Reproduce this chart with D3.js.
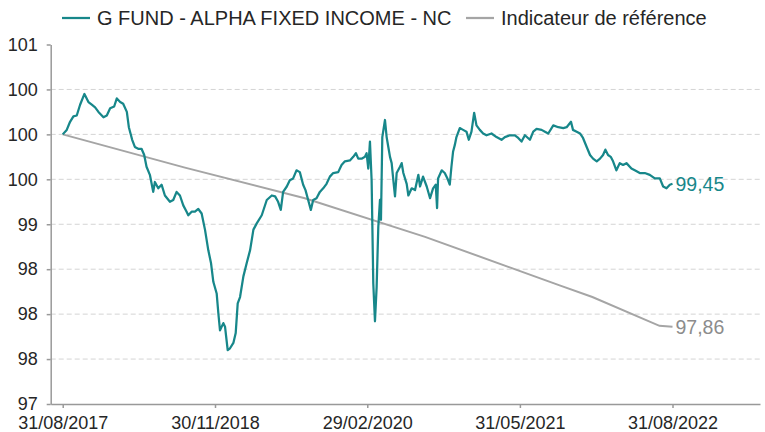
<!DOCTYPE html>
<html>
<head>
<meta charset="utf-8">
<script src="https://cdn.jsdelivr.net/npm/d3@7"></script>
<style>
	body { margin: 0; background: #fff; }
	svg { font-family: 'Liberation Sans', Arial, sans-serif; }
</style>
</head>
<body>
<div id="chart"></div>
<script>
// series names
const seriesNames = ['G FUND - ALPHA FIXED INCOME - NC', 'Indicateur de référence'];

// fund, base 100
const fundSeries = [
	['2017-08-31', 100.0], ['2017-09-12', 100.05], ['2017-09-22', 100.14], ['2017-10-02', 100.2],
	['2017-10-12', 100.21], ['2017-10-22', 100.33], ['2017-11-04', 100.45], ['2017-11-16', 100.36],
	['2017-11-26', 100.33], ['2017-12-06', 100.3], ['2017-12-16', 100.25], ['2017-12-31', 100.19],
	['2018-01-10', 100.21], ['2018-01-20', 100.29], ['2018-02-01', 100.31], ['2018-02-09', 100.4],
	['2018-02-19', 100.36], ['2018-02-28', 100.34], ['2018-03-11', 100.25], ['2018-03-17', 100.08],
	['2018-03-27', 99.94], ['2018-04-04', 99.86], ['2018-04-14', 99.84], ['2018-04-24', 99.84],
	['2018-05-02', 99.77], ['2018-05-09', 99.64], ['2018-05-19', 99.55], ['2018-05-29', 99.36],
	['2018-06-03', 99.47], ['2018-06-13', 99.4], ['2018-06-23', 99.44], ['2018-07-03', 99.32],
	['2018-07-18', 99.25], ['2018-07-28', 99.27], ['2018-08-07', 99.36], ['2018-08-17', 99.32],
	['2018-08-27', 99.21], ['2018-09-06', 99.14], ['2018-09-11', 99.1], ['2018-09-21', 99.14],
	['2018-10-01', 99.14], ['2018-10-11', 99.17], ['2018-10-21', 99.12], ['2018-10-31', 98.94],
	['2018-11-10', 98.71], ['2018-11-18', 98.57], ['2018-11-25', 98.36], ['2018-12-05', 98.23],
	['2018-12-10', 98.01], ['2018-12-15', 97.82], ['2018-12-25', 97.9], ['2018-12-30', 97.86],
	['2019-01-07', 97.6], ['2019-01-14', 97.62], ['2019-01-24', 97.68], ['2019-01-31', 97.79],
	['2019-02-06', 98.12], ['2019-02-13', 98.19], ['2019-02-23', 98.42], ['2019-03-05', 98.57],
	['2019-03-15', 98.71], ['2019-03-25', 98.94], ['2019-04-04', 99.01], ['2019-04-19', 99.1],
	['2019-05-04', 99.27], ['2019-05-19', 99.32], ['2019-05-29', 99.31], ['2019-06-07', 99.25],
	['2019-06-15', 99.16], ['2019-06-22', 99.36], ['2019-07-03', 99.42], ['2019-07-12', 99.49],
	['2019-07-22', 99.51], ['2019-08-01', 99.6], ['2019-08-11', 99.58], ['2019-08-21', 99.44],
	['2019-08-28', 99.38], ['2019-09-05', 99.27], ['2019-09-13', 99.16], ['2019-09-20', 99.27],
	['2019-09-30', 99.29], ['2019-10-10', 99.36], ['2019-10-20', 99.4], ['2019-10-30', 99.45],
	['2019-11-09', 99.53], ['2019-11-19', 99.57], ['2019-12-04', 99.58], ['2019-12-14', 99.66],
	['2019-12-24', 99.7], ['2020-01-08', 99.71], ['2020-01-18', 99.75], ['2020-01-26', 99.79],
	['2020-02-02', 99.73], ['2020-02-12', 99.73], ['2020-02-22', 99.75], ['2020-02-27', 99.79],
	['2020-03-03', 99.62], ['2020-03-08', 99.92], ['2020-03-13', 99.49], ['2020-03-18', 98.34],
	['2020-03-23', 97.92], ['2020-03-28', 98.3], ['2020-04-02', 98.97], ['2020-04-07', 99.27],
	['2020-04-10', 99.05], ['2020-04-14', 99.97], ['2020-04-22', 100.16], ['2020-04-27', 99.97],
	['2020-05-02', 99.86], ['2020-05-07', 99.75], ['2020-05-12', 99.68], ['2020-05-17', 99.49],
	['2020-05-22', 99.31], ['2020-05-27', 99.57], ['2020-06-06', 99.64], ['2020-06-11', 99.68],
	['2020-06-16', 99.57], ['2020-06-26', 99.45], ['2020-07-01', 99.32], ['2020-07-11', 99.4],
	['2020-07-21', 99.38], ['2020-07-31', 99.55], ['2020-08-05', 99.42], ['2020-08-14', 99.53],
	['2020-08-25', 99.42], ['2020-09-04', 99.29], ['2020-09-13', 99.4], ['2020-09-21', 99.44],
	['2020-09-25', 99.18], ['2020-09-28', 99.51], ['2020-10-09', 99.6], ['2020-10-18', 99.57],
	['2020-10-26', 99.51], ['2020-11-02', 99.44], ['2020-11-07', 99.64], ['2020-11-12', 99.81],
	['2020-11-17', 99.88], ['2020-11-22', 99.97], ['2020-12-02', 100.07], ['2020-12-12', 100.05],
	['2020-12-22', 100.03], ['2020-12-29', 99.94], ['2021-01-06', 100.03], ['2021-01-14', 100.24],
	['2021-01-21', 100.1], ['2021-01-31', 100.05], ['2021-02-10', 100.01], ['2021-02-20', 99.99],
	['2021-03-07', 100.01], ['2021-03-22', 99.97], ['2021-04-06', 99.94], ['2021-04-16', 99.97],
	['2021-05-01', 99.99], ['2021-05-16', 99.99], ['2021-05-26', 99.96], ['2021-06-05', 99.92],
	['2021-06-15', 99.99], ['2021-06-30', 99.94], ['2021-07-10', 100.03], ['2021-07-20', 100.06],
	['2021-08-04', 100.05], ['2021-08-14', 100.03], ['2021-08-24', 100.01], ['2021-09-08', 100.1],
	['2021-09-23', 100.08], ['2021-10-08', 100.07], ['2021-10-18', 100.08], ['2021-10-31', 100.14],
	['2021-11-06', 100.05], ['2021-11-17', 100.03], ['2021-11-27', 100.01], ['2021-12-06', 99.96],
	['2021-12-17', 99.86], ['2021-12-27', 99.77], ['2022-01-05', 99.73], ['2022-01-16', 99.7],
	['2022-01-26', 99.73], ['2022-02-04', 99.77], ['2022-02-11', 99.83], ['2022-02-19', 99.77],
	['2022-02-27', 99.75], ['2022-03-06', 99.7], ['2022-03-16', 99.6], ['2022-03-26', 99.68],
	['2022-04-05', 99.66], ['2022-04-15', 99.68], ['2022-04-30', 99.62], ['2022-05-10', 99.6],
	['2022-05-25', 99.57], ['2022-06-09', 99.57], ['2022-06-24', 99.55], ['2022-07-09', 99.51],
	['2022-07-24', 99.51], ['2022-08-03', 99.42], ['2022-08-13', 99.4], ['2022-08-23', 99.44],
	['2022-08-31', 99.45],
];

// benchmark, base 100
const benchSeries = [
	['2017-08-31', 100.0], ['2018-09-01', 99.63], ['2019-08-26', 99.29], ['2020-08-20', 98.86],
	['2021-09-27', 98.32], ['2022-01-03', 98.19], ['2022-07-23', 97.87], ['2022-08-31', 97.86],
];

// axis ticks
const xTickDates = ['2017-08-31', '2018-11-30', '2020-02-29', '2021-05-31', '2022-08-31'];
const yTickValues = [97, 97.5, 98, 98.5, 99, 99.5, 100, 100.5, 101];
const yTickLabels = ['97', '98', '98', '98', '99', '100', '100', '100', '101'];
const xDomain = ['2017-07-26', '2023-05-20'];

const width = 765;
const height = 432;
const teal = '#17878a';
const grey = '#a5a5a5';

const parse = d3.timeParse('%Y-%m-%d');
const fund = fundSeries.map(([d, v]) => ({ date: parse(d), value: v }));
const bench = benchSeries.map(([d, v]) => ({ date: parse(d), value: v }));

const x = d3.scaleTime().domain(xDomain.map(parse)).range([50.7, 760]);
const y = d3.scaleLinear().domain([97, 101]).range([404, 44.5]);

const svg = d3.select('#chart').append('svg').attr('width', width).attr('height', height);

// dashed gridlines (not on the bottom / top)
svg.append('g')
	.selectAll('line')
	.data(yTickValues.filter((v) => v > 97 && v < 101))
	.join('line')
	.attr('x1', x.range()[0])
	.attr('x2', x.range()[1])
	.attr('y1', (d) => y(d))
	.attr('y2', (d) => y(d))
	.attr('stroke', '#d4d4d4')
	.attr('stroke-width', 1)
	.attr('stroke-dasharray', '5,3');

// x axis
const xAxis = svg.append('g')
	.attr('transform', `translate(0,${y(97)})`)
	.call(
		d3.axisBottom(x)
			.tickValues(xTickDates.map(parse))
			.tickSize(4)
			.tickSizeOuter(0)
			.tickFormat(d3.timeFormat('%d/%m/%Y'))
	);
xAxis.select('.domain').attr('stroke', '#999').attr('stroke-width', 1.5);
xAxis.selectAll('.tick line').attr('stroke', '#999').attr('stroke-width', 1.5);
xAxis.selectAll('.tick text')
	.attr('y', 12)
	.attr('font-size', 18)
	.attr('fill', '#262626')
	.attr('font-family', "'Liberation Sans', Arial, sans-serif");

// y axis
const yAxis = svg.append('g')
	.attr('transform', `translate(${x.range()[0]},0)`)
	.call(
		d3.axisLeft(y)
			.tickValues(yTickValues)
			.tickSize(4)
			.tickSizeOuter(0)
			.tickFormat((d, i) => yTickLabels[i])
	);
yAxis.select('.domain').attr('stroke', '#999').attr('stroke-width', 1.5);
yAxis.selectAll('.tick line').attr('stroke', '#999').attr('stroke-width', 1.5);
yAxis.selectAll('.tick text')
	.attr('x', -13)
	.attr('font-size', 18)
	.attr('fill', '#262626')
	.attr('font-family', "'Liberation Sans', Arial, sans-serif");

const line = d3.line()
	.x((d) => x(d.date))
	.y((d) => y(d.value));

// benchmark line
svg.append('path')
	.datum(bench)
	.attr('fill', 'none')
	.attr('stroke', grey)
	.attr('stroke-width', 2)
	.attr('d', line);

// fund line
svg.append('path')
	.datum(fund)
	.attr('fill', 'none')
	.attr('stroke', teal)
	.attr('stroke-width', 2.25)
	.attr('stroke-linejoin', 'round')
	.attr('d', line);

// end labels
const lastFund = fund[fund.length - 1];
const lastBench = bench[bench.length - 1];
const fmt = (v) => v.toFixed(2).replace('.', ',');

svg.append('text')
	.attr('x', x(lastFund.date) + 3)
	.attr('y', y(lastFund.value))
	.attr('dy', '0.35em')
	.attr('font-size', 19.5)
	.attr('fill', teal)
	.text(fmt(lastFund.value));

svg.append('text')
	.attr('x', x(lastBench.date) + 3)
	.attr('y', y(lastBench.value))
	.attr('dy', '0.35em')
	.attr('font-size', 19.5)
	.attr('fill', '#8c8c8c')
	.text(fmt(lastBench.value));

// legend
const legend = svg.append('g').attr('transform', 'translate(62,18)');
const legendItems = [
	{ name: seriesNames[0], color: teal, x: 0 },
	{ name: seriesNames[1], color: grey, x: 404 },
];
const item = legend.selectAll('g')
	.data(legendItems)
	.join('g')
	.attr('transform', (d) => `translate(${d.x},0)`);
item.append('line')
	.attr('x1', 0)
	.attr('x2', 28)
	.attr('stroke', (d) => d.color)
	.attr('stroke-width', 2.25);
item.append('text')
	.attr('x', 35)
	.attr('dy', '0.35em')
	.attr('font-size', 20)
	.attr('fill', '#262626')
	.text((d) => d.name);
</script>
</body>
</html>
